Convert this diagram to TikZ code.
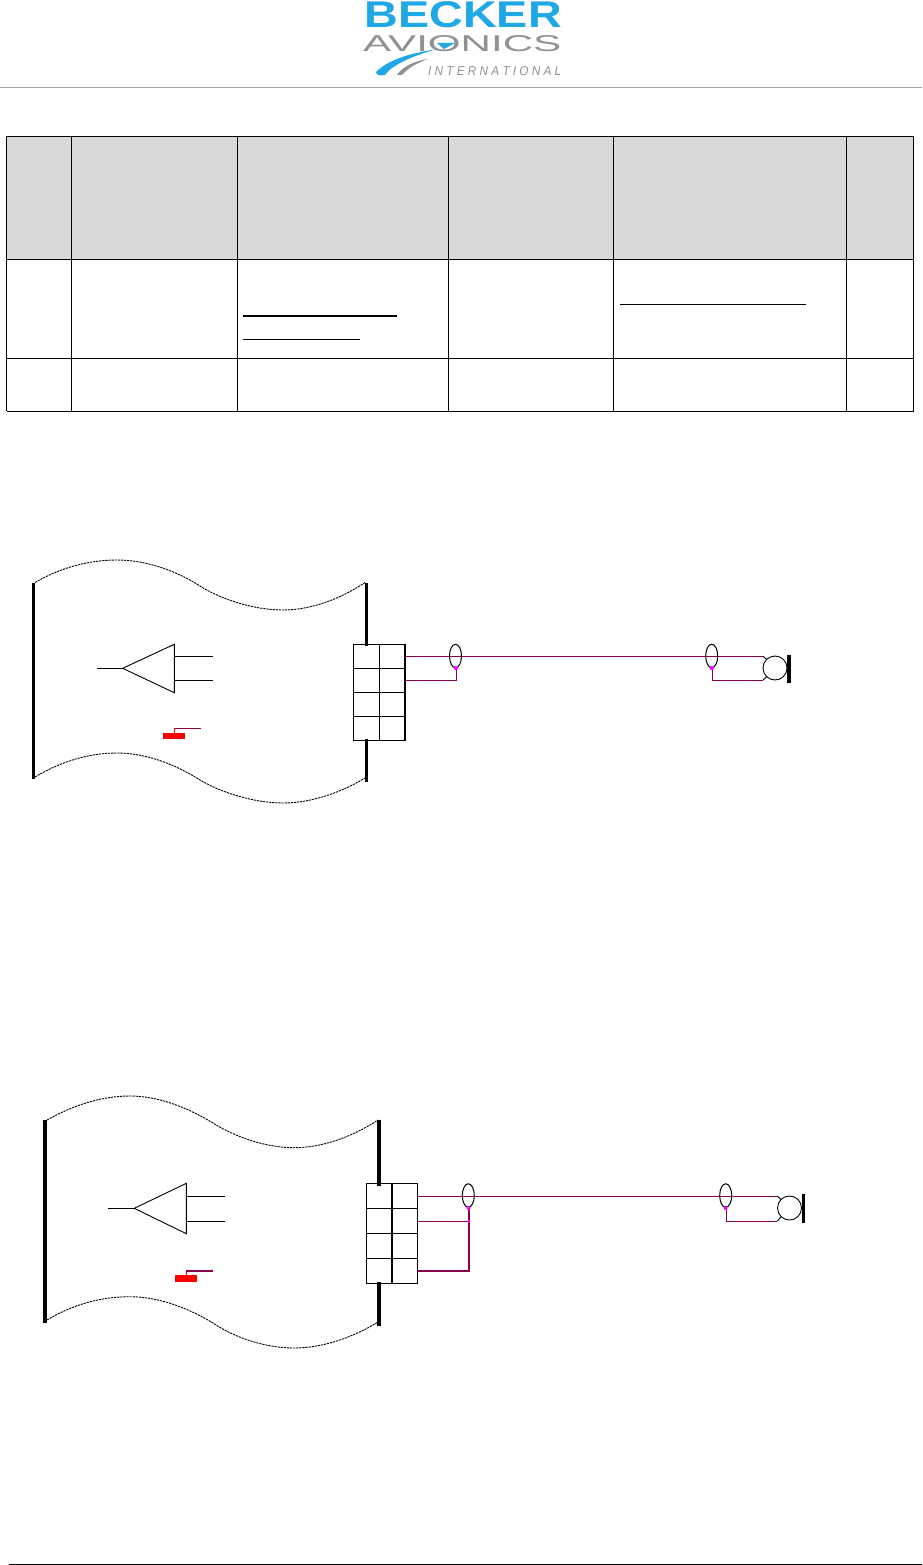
\documentclass[tikz,border=0pt]{standalone}
\usepackage{fontspec}
\usepackage{graphicx}
\usetikzlibrary{shapes.geometric}
\setmainfont{Liberation Sans}
\definecolor{wire}{HTML}{8A0048}
\definecolor{logoblue}{HTML}{1FA8E6}
\definecolor{logogray}{HTML}{8F9194}
\definecolor{headgray}{HTML}{D9D9D9}
\definecolor{dotpink}{HTML}{FF00FF}
\tikzset{
  x=1pt,y=-1pt,
  thinline/.style={draw=black,line width=0.9pt},
  barfill/.style={fill=black},
  wireline/.style={draw=wire,line width=0.9pt},
  wave/.style={draw=black,line width=0.9pt,dash pattern=on 2.2pt off 0.9pt},
  logotext/.style={inner sep=0pt,anchor=north west},
  tablerule/.style={draw=black,line width=1pt},
  shield/.style={ellipse,draw=black,line width=1pt,minimum width=12pt,minimum height=23.5pt,inner sep=0pt},
  junction/.style={circle,fill=dotpink,inner sep=0pt,minimum size=4pt},
  micbody/.style={circle,draw=black,line width=0.9pt,minimum size=24pt,inner sep=0pt},
}
\begin{document}
\begin{tikzpicture}
\useasboundingbox[fill=white] (0,0) rectangle (922,1565);
% logo
\node[logotext,text=logoblue] (lb) at (364.5,1) {\resizebox{197pt}{26pt}{\bfseries BECKER}};
\node[logotext,text=logogray] (la) at (363,35) {\resizebox{198pt}{16pt}{AVIONICS}};
\node[logotext,text=logogray] (li) at (428,66) {\resizebox{133pt}{9pt}{\itshape I N T E R N A T I O N A L}};
\fill[logoblue] (436,49.5) .. controls (410,53) and (388,60) .. (376,72) .. controls (376,75) and (380,76) .. (385,75) .. controls (392,65) and (412,56) .. (436,49.5) -- cycle;
\fill[logoblue] (437,43) -- (455,43) -- (444,49) -- cycle;
\fill[logogray] (428,59) .. controls (414,61) and (402,67) .. (397,75) -- (402,75) .. controls (408,68) and (417,63) .. (428,59) -- cycle;
\draw[draw=gray!70,line width=0.9pt] (0,87.5) -- (922,87.5);
% table
\fill[headgray] (6.5,136.5) rectangle (913.5,259.5);
\draw[tablerule] (6.5,136.5) -- (913.5,136.5);
\draw[tablerule] (6.5,259.5) -- (913.5,259.5);
\draw[tablerule] (6.5,358.5) -- (913.5,358.5);
\draw[tablerule] (6.5,411) -- (913.5,411);
\draw[tablerule] (6.5,136.5) -- (6.5,411);
\draw[draw=black,line width=0.6pt] (71.5,136.5) -- (71.5,411);
\draw[tablerule] (237.5,136.5) -- (237.5,411);
\draw[tablerule] (448.7,136.5) -- (448.7,411);
\draw[tablerule] (613.5,136.5) -- (613.5,411);
\draw[tablerule] (846,136.5) -- (846,411);
\draw[tablerule] (913.5,136.5) -- (913.5,411);
\draw[draw=black,line width=2pt] (243,316) -- (397,316);
\draw[tablerule] (243,339.8) -- (360,339.8);
\draw[tablerule] (620,304.3) -- (806,304.3);
% diagram 1 ------------------------------------------------
\draw[wave] (35,582.5) .. controls (60,568) and (88,560) .. (117,560) .. controls (148,560) and (178,572) .. (200,586) .. controls (222,600) and (255,610) .. (283,610) .. controls (312,610) and (342,598) .. (365,582.5);
\draw[wave] (35,777) .. controls (60,762) and (88,753) .. (117,753) .. controls (148,753) and (178,766) .. (200,780) .. controls (222,793) and (255,803) .. (283,803) .. controls (312,803) and (342,792) .. (365,778);
\fill[barfill] (32,582.7) rectangle (35,778.7);
\fill[barfill] (365,582.7) rectangle (368,645.7);
\fill[barfill] (365,739) rectangle (368,782);
\draw[thinline,line join=miter] (174.3,644.3) -- (122.7,668.3) -- (174.3,692.7) -- cycle;
\coordinate (a1in) at (97,668.3);
\draw[thinline] (a1in) -- (122.7,668.3);
\draw[thinline] (174.3,656.3) -- (212.7,656.3);
\draw[thinline] (174.3,680.3) -- (212.7,680.3);
\draw[draw=red,line width=0.9pt] (174.7,733) -- (174.7,728.3);
\draw[wireline] (174.7,728.3) -- (200.7,728.3);
\fill[red] (163,733) rectangle (185,739);
\draw[thinline] (353.3,644.3) rectangle (405,740.3);
\draw[thinline] (379.3,644.3) -- (379.3,740.3);
\draw[thinline] (353.3,668.3) -- (405,668.3);
\draw[thinline] (353.3,692.3) -- (405,692.3);
\draw[thinline] (353.3,716.3) -- (405,716.3);
\draw[draw=black,line width=2pt] (405,644) -- (405,741);
\node[micbody] (m1) at (775,668) {};
\draw[thinline] (763,656.3) -- (767,659.5);
\draw[thinline] (763,680) -- (767,676.5);
\fill[barfill] (787,655) rectangle (791,682.7);
\draw[wireline] (405,656.3) -- (763,656.3);
\draw[wireline] (405,680.3) -- (456.7,680.3) -- (456.7,668);
\draw[wireline] (712.3,668) -- (712.3,680.3) -- (763,680.3);
\node[shield] (e1) at (455.5,656) {};
\node[shield] (e2) at (711.7,656) {};
\node[junction] at (455.8,668) {};
\node[junction] at (711.8,668) {};
% diagram 2 ------------------------------------------------
\draw[wave] (47,1120) .. controls (72,1106) and (100,1096) .. (130,1096) .. controls (160,1096) and (190,1109) .. (213,1123) .. controls (235,1137) and (266,1147.7) .. (294,1147.7) .. controls (322,1147.7) and (352,1137) .. (378,1120);
\draw[wave] (47,1320) .. controls (72,1305) and (100,1296.7) .. (130,1296.7) .. controls (160,1296.7) and (190,1309) .. (213,1323) .. controls (235,1338) and (266,1348) .. (294,1348) .. controls (322,1348) and (352,1338) .. (378,1322);
\fill[barfill] (43.3,1120) rectangle (47,1322.7);
\fill[barfill] (377.3,1120) rectangle (381,1185.7);
\fill[barfill] (377.3,1282.3) rectangle (381,1325.7);
\draw[thinline,line join=miter] (186.3,1183.3) -- (134.3,1208.3) -- (186.3,1233.7) -- cycle;
\coordinate (a2in) at (108,1208.3);
\draw[thinline] (a2in) -- (134.3,1208.3);
\draw[thinline] (186.3,1196.3) -- (225,1196.3);
\draw[thinline] (186.3,1221.3) -- (225,1221.3);
\draw[draw=red,line width=0.9pt] (186.3,1275) -- (186.3,1270.7);
\draw[draw=wire,line width=1.7pt] (186,1270.7) -- (213,1270.7);
\fill[red] (175,1275) rectangle (197,1282);
\draw[thinline] (366.3,1183.3) rectangle (417.3,1283.3);
\draw[thinline] (366.3,1208.3) -- (417.3,1208.3);
\draw[thinline] (366.3,1233.3) -- (417.3,1233.3);
\draw[thinline] (366.3,1258.3) -- (417.3,1258.3);
\draw[draw=black,line width=2pt] (392,1183.3) -- (392,1283.3);
\node[micbody] (m2) at (789.5,1208) {};
\draw[thinline] (777.3,1196) -- (781,1199.5);
\draw[thinline] (777.3,1221) -- (781,1217);
\fill[barfill] (801.7,1194) rectangle (805,1222.7);
\draw[wireline] (417.3,1196) -- (777.3,1196);
\draw[wireline] (417.3,1221.3) -- (468.7,1221.3);
\draw[draw=wire,line width=2pt] (417.3,1270.7) -- (469,1270.7) -- (469,1208);
\draw[wireline] (726.3,1208) -- (726.3,1221.3) -- (777.3,1221.3);
\node[shield] (e3) at (468.3,1195.5) {};
\node[shield] (e4) at (725.7,1195.5) {};
\node[junction] at (468.5,1208) {};
\node[junction,minimum size=3.4pt] at (468.7,1221.3) {};
\node[junction] at (725.7,1208) {};
% footer
\draw[draw=black,line width=1pt] (9,1564) -- (922,1564);
\end{tikzpicture}
\end{document}
